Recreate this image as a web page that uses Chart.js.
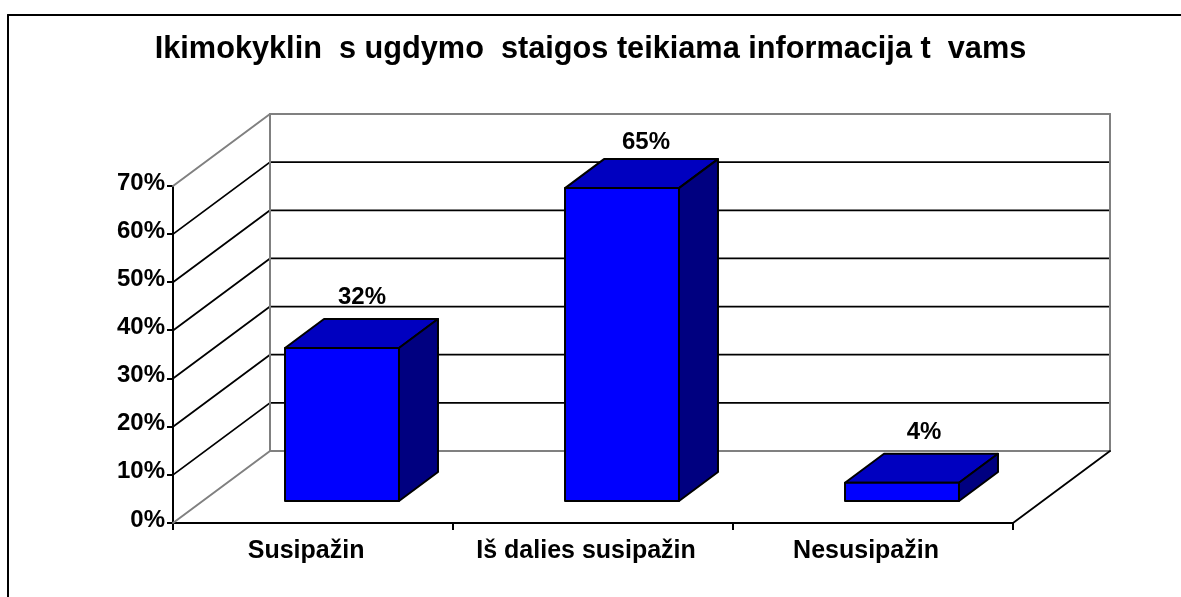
<!DOCTYPE html>
<html><head><meta charset="utf-8">
<style>html,body{margin:0;padding:0;background:#fff}canvas{display:block}</style>
<script src="https://cdn.jsdelivr.net/npm/chart.js@4"></script>
</head><body><canvas id="c" width="1181" height="597"></canvas>
<script>
const chartTitle = "Ikimokyklin  s ugdymo  staigos teikiama informacija t  vams";
const categories = ["Susipažin  ", "Iš dalies susipažin  ", "Nesusipažin  "];
const values = [32, 65.2, 4];
const yMax = 70, yStep = 10;

const FONT = '"Liberation Sans", Arial, sans-serif';
const WALL = {dx: 97, dy: -72};
const BAR_OFFSET = {dx: 29, dy: -21};
const BAR_DEPTH = {dx: 39, dy: -29};
const LABEL_SHIFT = [{dx: 20, dy: -15}, {dx: 24, dy: -10}, {dx: 22, dy: -15}];

const scene = {
  id: 'scene',
  beforeDatasetsDraw(chart) {
    const {ctx, scales: {x, y}, chartArea: a} = chart;
    const line = (x1, y1, x2, y2, c, w) => {
      ctx.strokeStyle = c; ctx.lineWidth = w || 1.8;
      ctx.beginPath(); ctx.moveTo(x1, y1); ctx.lineTo(x2, y2); ctx.stroke();
    };
    ctx.save();
    ctx.lineCap = 'round';
    line(8, chart.height + 4, 8, 15, '#000', 2);
    line(8, 15, chart.width + 4, 15, '#000', 2);
    for (let v = yStep; v < yMax; v += yStep) {
      const p = y.getPixelForValue(v);
      line(a.left, p, a.left + WALL.dx, p + WALL.dy, '#000');
      line(a.left + WALL.dx, p + WALL.dy, a.right + WALL.dx, p + WALL.dy, '#000');
    }
    const top = y.getPixelForValue(yMax), bot = y.getPixelForValue(0);
    const bx = a.left + WALL.dx, rx = a.right + WALL.dx;
    line(a.left, top, bx, top + WALL.dy, '#808080', 2);
    line(a.left, bot, bx, bot + WALL.dy, '#808080', 2);
    line(bx, top + WALL.dy, rx, top + WALL.dy, '#808080', 2);
    line(bx, bot + WALL.dy, rx, bot + WALL.dy, '#808080', 2);
    line(bx, top + WALL.dy, bx, bot + WALL.dy, '#808080', 2);
    line(rx, top + WALL.dy, rx, bot + WALL.dy, '#808080', 2);
    line(a.right, bot, rx, bot + WALL.dy, '#000');
    ctx.restore();
  },
  beforeDatasetDraw(chart, args) {
    const {ctx} = chart;
    ctx.save();
    ctx.translate(BAR_OFFSET.dx, BAR_OFFSET.dy);
    ctx.lineWidth = 2; ctx.strokeStyle = '#000'; ctx.lineJoin = 'round';
    args.meta.data.forEach(b => {
      const l = b.x - b.width / 2, r = b.x + b.width / 2, t = b.y, bt = b.base;
      ctx.fillStyle = '#0000C0';
      ctx.beginPath();
      ctx.moveTo(l, t); ctx.lineTo(l + BAR_DEPTH.dx, t + BAR_DEPTH.dy);
      ctx.lineTo(r + BAR_DEPTH.dx, t + BAR_DEPTH.dy); ctx.lineTo(r, t); ctx.closePath();
      ctx.fill(); ctx.stroke();
      ctx.fillStyle = '#000080';
      ctx.beginPath();
      ctx.moveTo(r, t); ctx.lineTo(r + BAR_DEPTH.dx, t + BAR_DEPTH.dy);
      ctx.lineTo(r + BAR_DEPTH.dx, bt + BAR_DEPTH.dy); ctx.lineTo(r, bt); ctx.closePath();
      ctx.fill(); ctx.stroke();
    });
  },
  afterDatasetDraw(chart, args) {
    const {ctx} = chart;
    ctx.lineWidth = 2; ctx.strokeStyle = '#000'; ctx.lineJoin = 'round';
    args.meta.data.forEach(b => {
      ctx.strokeRect(b.x - b.width / 2, b.y, b.width, b.base - b.y);
    });
    ctx.restore();
    ctx.save();
    ctx.fillStyle = '#000';
    ctx.font = 'bold 24px ' + FONT;
    ctx.textAlign = 'center'; ctx.textBaseline = 'alphabetic';
    args.meta.data.forEach((b, i) => {
      const s = Math.round(values[i]) + '%';
      ctx.fillText(s, b.x + BAR_OFFSET.dx + LABEL_SHIFT[i].dx,
        b.y + BAR_OFFSET.dy + BAR_DEPTH.dy + LABEL_SHIFT[i].dy);
    });
    ctx.restore();
  }
};

new Chart(document.getElementById('c'), {
  type: 'bar',
  data: {labels: categories, datasets: [{
    data: values, backgroundColor: '#0000FF', borderWidth: 0, inflateAmount: 0,
    barPercentage: 0.407, categoryPercentage: 1, clip: false
  }]},
  plugins: [scene],
  options: {
    responsive: false, animation: false, devicePixelRatio: 1,
    plugins: {
      legend: {display: false}, tooltip: {enabled: false},
      title: {display: true, text: chartTitle, color: '#000',
        font: {family: FONT, size: 30.7, weight: 'bold', lineHeight: 1.2},
        padding: {top: 31.5, bottom: 117.66}}
    },
    scales: {
      x: {
        type: 'category', offset: true,
        afterFit: s => { s.height = 74; },
        grid: {drawOnChartArea: false, offset: true, color: '#000', lineWidth: 2, tickLength: 7, tickColor: '#000'},
        border: {color: '#000', width: 2},
        ticks: {color: '#000', font: {family: FONT, size: 25, weight: 'bold'}, padding: 6, maxRotation: 0, autoSkip: false}
      },
      y: {
        min: 0, max: yMax,
        afterFit: s => { s.width = 173; },
        grid: {drawOnChartArea: false, color: '#000', lineWidth: 2, tickLength: 6, tickColor: '#000'},
        border: {color: '#000', width: 2},
        ticks: {stepSize: yStep, color: '#000', font: {family: FONT, size: 24, weight: 'bold'}, padding: 2, labelOffset: -3,
          callback: v => v + '%'}
      },
      rightGap: {
        type: 'linear', position: 'right',
        afterFit: s => { s.width = 168; },
        grid: {display: false}, border: {display: false}, ticks: {display: false}
      }
    }
  }
});
</script></body></html>
